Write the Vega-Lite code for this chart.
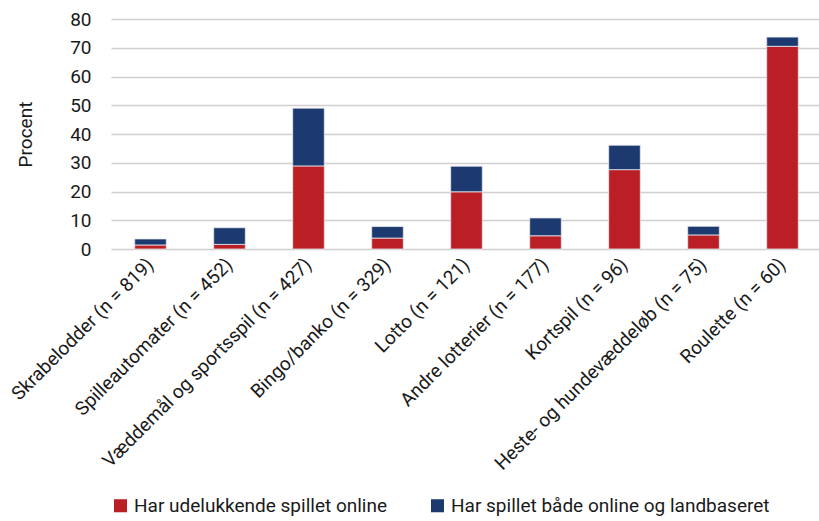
{
  "$schema": "https://vega.github.io/schema/vega-lite/v6.json",
  "width": 711,
  "height": 230,
  "padding": {"left": 8, "top": 10, "right": 0, "bottom": 5},
  "background": "white",
  "config": {
    "font": "Roboto",
    "view": {"stroke": null}
  },
  "data": {
    "values": [
      {"kategori": "Skrabelodder (n = 819)", "serie": "Har udelukkende spillet online", "o": 1, "procent": 1.4},
      {"kategori": "Skrabelodder (n = 819)", "serie": "Har spillet både online og landbaseret", "o": 2, "procent": 2.1},
      {"kategori": "Spilleautomater (n = 452)", "serie": "Har udelukkende spillet online", "o": 1, "procent": 1.6},
      {"kategori": "Spilleautomater (n = 452)", "serie": "Har spillet både online og landbaseret", "o": 2, "procent": 5.8},
      {"kategori": "Væddemål og sportsspil (n = 427)", "serie": "Har udelukkende spillet online", "o": 1, "procent": 28.9},
      {"kategori": "Væddemål og sportsspil (n = 427)", "serie": "Har spillet både online og landbaseret", "o": 2, "procent": 20.1},
      {"kategori": "Bingo/banko (n = 329)", "serie": "Har udelukkende spillet online", "o": 1, "procent": 3.8},
      {"kategori": "Bingo/banko (n = 329)", "serie": "Har spillet både online og landbaseret", "o": 2, "procent": 4.0},
      {"kategori": "Lotto (n = 121)", "serie": "Har udelukkende spillet online", "o": 1, "procent": 19.9},
      {"kategori": "Lotto (n = 121)", "serie": "Har spillet både online og landbaseret", "o": 2, "procent": 8.9},
      {"kategori": "Andre lotterier (n = 177)", "serie": "Har udelukkende spillet online", "o": 1, "procent": 4.6},
      {"kategori": "Andre lotterier (n = 177)", "serie": "Har spillet både online og landbaseret", "o": 2, "procent": 6.2},
      {"kategori": "Kortspil (n = 96)", "serie": "Har udelukkende spillet online", "o": 1, "procent": 27.6},
      {"kategori": "Kortspil (n = 96)", "serie": "Har spillet både online og landbaseret", "o": 2, "procent": 8.5},
      {"kategori": "Heste- og hundevæddeløb (n = 75)", "serie": "Har udelukkende spillet online", "o": 1, "procent": 4.9},
      {"kategori": "Heste- og hundevæddeløb (n = 75)", "serie": "Har spillet både online og landbaseret", "o": 2, "procent": 3.0},
      {"kategori": "Roulette (n = 60)", "serie": "Har udelukkende spillet online", "o": 1, "procent": 70.5},
      {"kategori": "Roulette (n = 60)", "serie": "Har spillet både online og landbaseret", "o": 2, "procent": 3.2}
    ]
  },
  "mark": {"type": "bar", "stroke": "#e8e8ee", "strokeWidth": 0.8},
  "encoding": {
    "x": {
      "field": "kategori",
      "type": "nominal",
      "sort": null,
      "title": null,
      "scale": {"paddingInner": 0.6, "paddingOuter": 0.3},
      "axis": {
        "labelAngle": -45,
        "labelAlign": "right",
        "labelBaseline": "middle",
        "labelFontSize": 19,
        "labelColor": "#1a1a1a",
        "labelPadding": 12,
        "ticks": false,
        "domain": false,
        "labelLimit": 400
      }
    },
    "y": {
      "field": "procent",
      "type": "quantitative",
      "stack": "zero",
      "title": "Procent",
      "scale": {"domain": [0, 80]},
      "axis": {
        "values": [0, 10, 20, 30, 40, 50, 60, 70, 80],
        "labelFontSize": 19,
        "labelColor": "#1a1a1a",
        "labelPadding": 20,
        "ticks": false,
        "domain": false,
        "gridColor": "#d0d0d0",
        "gridWidth": 1.5,
        "titleFontSize": 19,
        "titleFontWeight": "normal",
        "titleColor": "#1a1a1a",
        "titlePadding": 34
      }
    },
    "color": {
      "field": "serie",
      "type": "nominal",
      "title": null,
      "scale": {
        "domain": ["Har udelukkende spillet online", "Har spillet både online og landbaseret"],
        "range": ["#B91F24", "#1C3A70"]
      },
      "legend": {
        "orient": "bottom",
        "direction": "horizontal",
        "symbolType": "square",
        "symbolSize": 170,
        "symbolStrokeWidth": 0,
        "labelFontSize": 19,
        "labelColor": "#1a1a1a",
        "columnPadding": 40,
        "labelLimit": 400,
        "offset": 22
      }
    },
    "order": {"field": "o", "type": "quantitative"}
  }
}
